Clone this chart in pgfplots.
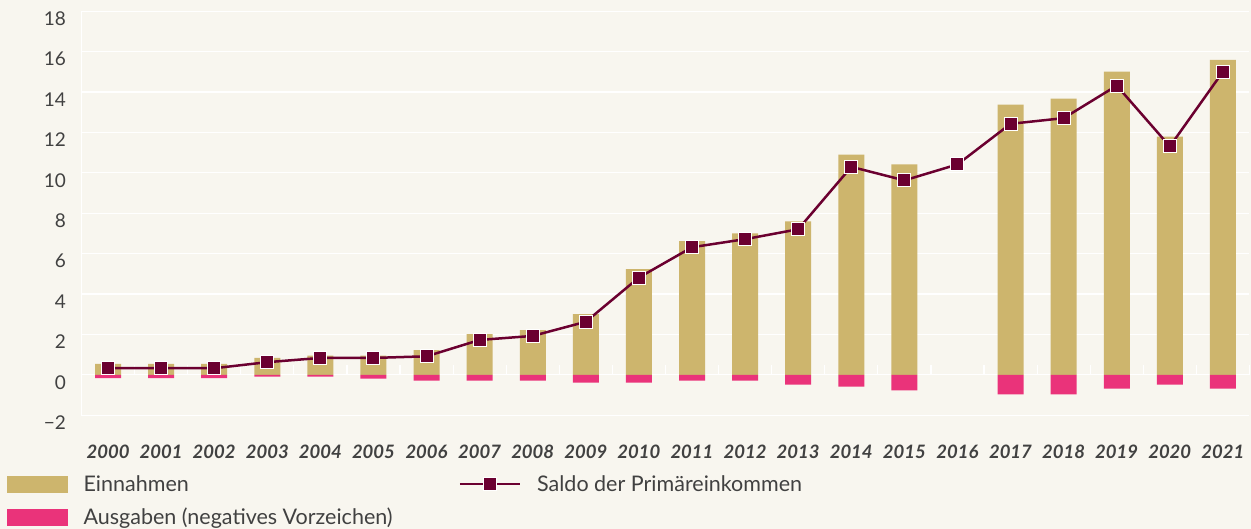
\documentclass[border=0pt]{standalone}
\usepackage{fontspec}
\setmainfont{Lato}
\usepackage{pgfplots}
\pgfplotsset{compat=1.18}
\definecolor{bg}{HTML}{F8F6EF}
\definecolor{gold}{HTML}{CDB56D}
\definecolor{pinkb}{HTML}{EA337A}
\definecolor{maroon}{HTML}{6B0030}
\definecolor{txt}{HTML}{414141}
\begin{document}
\begin{tikzpicture}
\fill[bg, use as bounding box] (-81.5pt,-113.7pt) rectangle (1169.5pt,415.3pt);
\begin{axis}[
  at={(0pt,0pt)}, anchor=south west,
  scale only axis, width=1168pt, height=404pt,
  xmin=1999.5, xmax=2021.5, ymin=-2, ymax=18,
  axis lines*=left,
  axis line style={white, line width=1.2pt},
  ymajorgrids, grid style={white, line width=1.2pt},
  xtick={2000,...,2021},
  minor xtick={1999.5,2000.5,...,2021.5},
  ytick={-2,0,...,18},
  yticklabels={−2,0,2,4,6,8,10,12,14,16,18},
  major tick length=0pt,
  minor tick length=10pt,
  xtick align=inside,
  minor x tick style={white, line width=1.2pt, yshift=40.5pt},
  /pgf/number format/assume math mode=true,
  /pgf/number format/1000 sep={},
  tick label style={text=txt},
  yticklabel style={font=\fontsize{19}{22}\selectfont, xshift=-12pt, yshift=-7.5pt},
  xticklabel style={font=\fontsize{18.5}{22}\selectfont\bfseries\itshape, yshift=-26pt},
  legend columns=2,
  legend style={at={(rel axis cs:0,0)}, anchor=north west, xshift=-77.5pt, yshift=-56pt,
    draw=none, fill=none, font=\fontsize{21.5}{25}\selectfont, text=txt,
    /tikz/every odd column/.append style={column sep=14pt},
    /tikz/every even column/.append style={column sep=64pt},
    row sep=11pt},
  legend cell align=left,
]
\addlegendimage{legend image code/.code={\fill[gold] (0pt,-8pt) rectangle (60pt,8pt);}}
\addlegendentry{Einnahmen}
\addlegendimage{legend image code/.code={\draw[maroon, line width=2.5pt] (0pt,0pt) -- (60pt,0pt);
  \draw[white, fill=maroon, line width=1pt] (23.5pt,-6.5pt) rectangle (36.5pt,6.5pt);}}
\addlegendentry{Saldo der Primäreinkommen}
\addlegendimage{legend image code/.code={\fill[pinkb] (0pt,-8pt) rectangle (60pt,8pt);}}
\addlegendentry{Ausgaben (negatives Vorzeichen)}

\addplot[ybar, bar width=26pt, bar shift=0pt, fill=gold, draw=none, forget plot] coordinates {
(2000,0.55) (2001,0.55) (2002,0.55) (2003,0.84) (2004,0.95) (2005,0.95) (2006,1.23)
(2007,2.02) (2008,2.22) (2009,3.01) (2010,5.23) (2011,6.62) (2012,7.01) (2013,7.60)
(2014,10.91) (2015,10.42) (2017,13.38) (2018,13.68) (2019,15.01) (2020,11.80) (2021,15.60)};
\addplot[ybar, bar width=26pt, bar shift=0pt, fill=pinkb, draw=none, forget plot] coordinates {
(2000,-0.16) (2001,-0.16) (2002,-0.16) (2003,-0.08) (2004,-0.08) (2005,-0.18) (2006,-0.28)
(2007,-0.28) (2008,-0.28) (2009,-0.38) (2010,-0.38) (2011,-0.28) (2012,-0.28) (2013,-0.48)
(2014,-0.58) (2015,-0.77) (2017,-0.97) (2018,-0.97) (2019,-0.68) (2020,-0.48) (2021,-0.68)};
\addplot[maroon, line width=2.5pt, mark=square*, mark size=6.5pt,
  mark options={draw=white, fill=maroon, line width=1pt}, forget plot] coordinates {
(2000,0.33) (2001,0.33) (2002,0.33) (2003,0.63) (2004,0.84) (2005,0.84) (2006,0.92)
(2007,1.73) (2008,1.93) (2009,2.63) (2010,4.82) (2011,6.32) (2012,6.72) (2013,7.21)
(2014,10.30) (2015,9.63) (2016,10.42) (2017,12.43) (2018,12.71) (2019,14.32) (2020,11.31) (2021,15.01)};
\end{axis}
\end{tikzpicture}
\end{document}
